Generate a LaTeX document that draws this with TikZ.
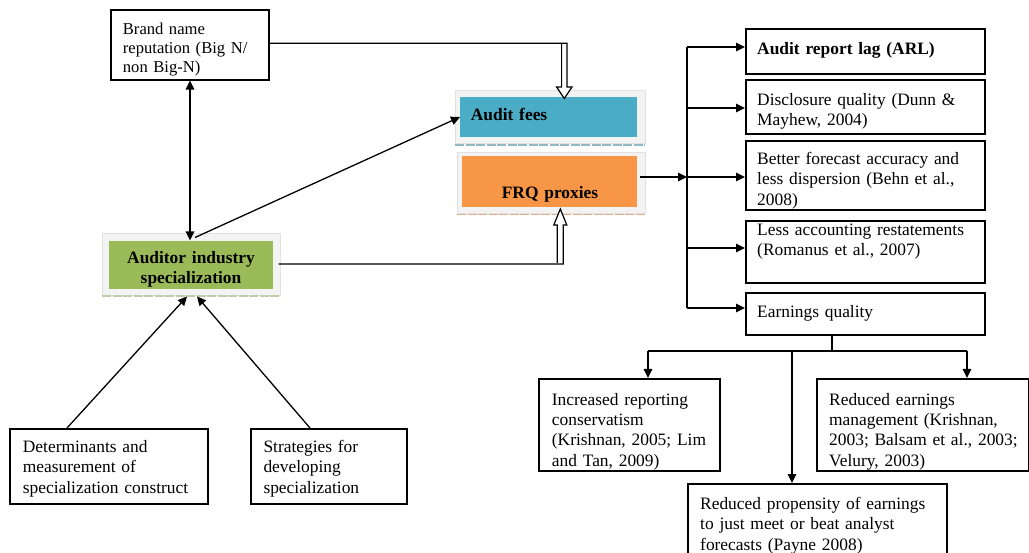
\documentclass[tikz,border=0pt]{standalone}
\usepackage{fontspec}
\setmainfont{Liberation Serif}
\usetikzlibrary{arrows.meta,calc}
\definecolor{fgreen}{HTML}{9BBB59}
\definecolor{fblue}{HTML}{4BACC6}
\definecolor{forange}{HTML}{F79646}
\definecolor{fframe}{HTML}{F3F3F3}
\definecolor{fframeedge}{HTML}{E2E2E2}
\definecolor{dgreen}{HTML}{BFCCA8}
\definecolor{dblue}{HTML}{93B8C2}
\definecolor{dorange}{HTML}{DDAE8E}
\begin{document}
\begin{tikzpicture}[x=1pt,y=-1pt,
  box/.style={draw, line width=1.6pt, inner sep=0pt, anchor=north west},
  fillbox/.style={inner sep=0pt, anchor=north west},
  framebox/.style={fill=fframe, draw=fframeedge, line width=0.6pt, inner sep=0pt, anchor=north west},
  txt/.style={anchor=base west, inner sep=0pt, align=left, text width=330pt, yshift=-2.5pt, font=\fontsize{17.4}{20.4}\selectfont},
  ctxt/.style={anchor=base, inner sep=0pt, align=center, text width=200pt, yshift=-2pt, font=\fontsize{17.4}{19.5}\selectfont\bfseries},
  conn/.style={line width=1.3pt},
  arr/.style={conn, -{Triangle[length=9pt,width=8.5pt]}},
  dbl/.style={conn, {Triangle[length=9pt,width=8.5pt]}-{Triangle[length=9pt,width=8.5pt]}},
  hollow/.style={line width=1.2pt, fill=white, line join=miter},
  dashline/.style={line width=1.4pt, dash pattern=on 9pt off 1.5pt}
]
\useasboundingbox (0,0) rectangle (1029,553);

% ---------- left part ----------
\node[box, minimum width=158pt, minimum height=70pt] (brand) at (110,9) {};
\node[txt, font=\fontsize{16.6}{19.3}\selectfont] (brandt) at (122.7,31.7) {Brand name\\reputation (Big N/\\non Big-N)};

% Audit fees
\node[framebox, minimum width=190pt, minimum height=53pt] (feesframe) at (455,90) {};
\node[fillbox, fill=fblue, minimum width=177pt, minimum height=40pt] (fees) at (460,97) {};
\draw[dashline, draw=dblue] (455,145) -- (645,145);
\node[txt, font=\fontsize{17.4}{20.4}\selectfont\bfseries] (feest) at (470.7,118.3) {Audit fees};

% FRQ proxies
\node[framebox, minimum width=188pt, minimum height=61pt] (frqframe) at (457,152) {};
\node[fillbox, fill=forange, minimum width=175pt, minimum height=51pt] (frq) at (462,156) {};
\draw[dashline, draw=dorange] (457,214.3) -- (645,214.3);
\node[ctxt] (frqt) at (550,196.7) {FRQ proxies};

% Auditor industry specialization
\node[framebox, minimum width=178pt, minimum height=62pt] (specframe) at (102,233) {};
\node[fillbox, fill=fgreen, minimum width=164pt, minimum height=48pt] (spec) at (109,240.5) {};
\draw[dashline, draw=dgreen] (102,296) -- (280,296);
\node[ctxt] (spect) at (191,261.7) {Auditor industry\\specialization};

% bottom-left boxes
\node[box, minimum width=198pt, minimum height=75pt] (det) at (9,428) {};
\node[txt] (dett) at (22.7,450) {Determinants and\\measurement of\\specialization construct};
\node[box, minimum width=156pt, minimum height=75pt] (strat) at (250,428) {};
\node[txt] (stratt) at (263.3,450) {Strategies for\\developing\\specialization};

% ---------- right column ----------
\node[box, minimum width=239pt, minimum height=45pt] (arl) at (745,28) {};
\node[txt, font=\fontsize{17.4}{20.4}\selectfont\bfseries] (arlt) at (757,51.7) {Audit report lag (ARL)};
\node[box, minimum width=239pt, minimum height=54pt] (disc) at (745,79) {};
\node[txt] (disct) at (757,102.7) {Disclosure quality (Dunn \&\\Mayhew, 2004)};
\node[box, minimum width=239pt, minimum height=69pt] (fore) at (745,140) {};
\node[txt] (foret) at (757,162) {Better forecast accuracy and\\less dispersion (Behn et al.,\\2008)};
\node[box, minimum width=239pt, minimum height=62pt] (rest) at (745,220) {};
\node[txt] (restt) at (757,233) {Less accounting restatements\\(Romanus et al., 2007)};
\node[box, minimum width=239pt, minimum height=42pt] (eq) at (745,292) {};
\node[txt] (eqt) at (757,315) {Earnings quality};

% ---------- bottom right ----------
\node[box, minimum width=181pt, minimum height=92pt] (cons) at (538,378) {};
\node[txt] (const) at (551.7,402.7) {Increased reporting\\conservatism\\(Krishnan, 2005; Lim\\and Tan, 2009)};
\node[box, minimum width=212pt, minimum height=92pt] (em) at (816,378) {};
\node[txt] (emt) at (829,402.7) {Reduced earnings\\management (Krishnan,\\2003; Balsam et al., 2003;\\Velury, 2003)};
\node[box, minimum width=259pt, minimum height=80pt] (meet) at (687,483) {};
\node[txt] (meett) at (700,506.7) {Reduced propensity of earnings\\to just meet or beat analyst\\forecasts (Payne 2008)};

% ---------- connectors ----------
% brand <-> specialization
\coordinate (v1) at (190,80);
\draw[dbl] (v1 |- brand.south) -- (v1 |- spec.north);
% specialization -> audit fees
\coordinate (s1) at (195,237.5);
\coordinate (f1) at (459,117);
\draw[arr] (s1) -- (f1 -| fees.west);
% brand -> audit fees (hollow arrow)
\coordinate (bh) at (268,43.3);
\draw[hollow] (bh -| brand.east) -- (567,43.3) -- (567,87) -- (572,87) -- (564.3,98.5)
  -- (556.6,87) -- (561.6,87) -- (561.6,44);
% specialization -> FRQ (hollow arrow)
\coordinate (sh) at (280,264);
\draw[hollow] ($(sh -| specframe.east)+(-2,0)$) -- (563.3,264) -- (563.3,225) -- (566.8,225)
  -- (560.3,209) -- (553.8,225) -- (557.3,225) -- (557.3,263);
% FRQ -> bus
\coordinate (busT) at (687,47);
\coordinate (b2) at (687,108);
\coordinate (b3) at (687,177);
\coordinate (b4) at (687,248);
\coordinate (busB) at (687,308);
\draw[arr] ($(b3 -| frq.east)+(3,0)$) -- (b3);
\draw[conn] (busT) -- (busB);
\draw[arr] (busT) -- (busT -| arl.west);
\draw[arr] (b2) -- (b2 -| disc.west);
\draw[arr] (b3) -- (b3 -| fore.west);
\draw[arr] (b4) -- (b4 -| rest.west);
\draw[arr] (busB) -- (busB -| eq.west);
% earnings quality branches
\coordinate (eqs) at (832,334);
\coordinate (eqj) at (832,351);
\coordinate (hl) at (648,351);
\coordinate (hm) at (792,351);
\coordinate (hr) at (967,351);
\draw[conn] (eqs |- eq.south) -- (eqj);
\draw[conn] (hl) -- (hr);
\draw[arr] (hl) -- (hl |- cons.north);
\draw[arr] (hr) -- (hr |- em.north);
\draw[arr] (hm) -- (hm |- meet.north);
% bottom-left -> specialization
\coordinate (d1) at (67,428);
\coordinate (d2) at (310,428);
\coordinate (t1) at (187,296.5);
\coordinate (t2) at (197,296.5);
\draw[arr] (d1 |- det.north) -- (t1);
\draw[arr] (d2 |- strat.north) -- (t2);
\end{tikzpicture}
\end{document}
